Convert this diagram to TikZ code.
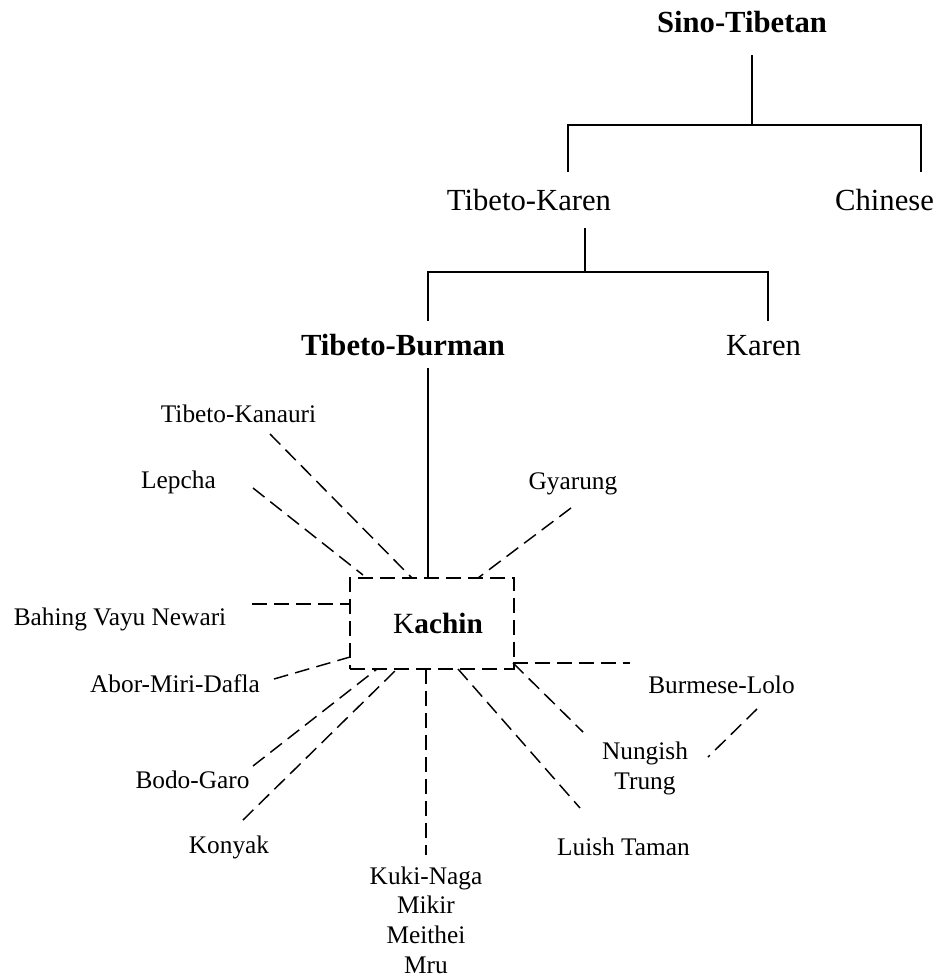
\documentclass[tikz,border=0pt]{standalone}
\usepackage{fontspec}
\setmainfont{Liberation Serif}
\begin{document}
\begin{tikzpicture}[x=0.75pt,y=-0.75pt,
  big/.style={font=\fontsize{23}{27}\selectfont, inner sep=0pt, anchor=base},
  small/.style={font=\fontsize{19}{22.2}\selectfont, inner sep=0pt, anchor=base, align=center},
  tree/.style={line width=1.1pt},
  dsh/.style={line width=1.1pt, dash pattern=on 11pt off 5.5pt}]
\useasboundingbox (0,0) rectangle (941,979);

% upper tree
\node[big] (sino) at (742,32) {\bfseries Sino-Tibetan};
\node[big] (tk) at (529,210) {Tibeto-Karen};
\node[big] (chinese) at (884.5,210) {Chinese};
\node[big] (tb) at (403,355) {\bfseries Tibeto-Burman};
\node[big] (karen) at (763.5,355) {Karen};

\coordinate (st1) at (752,55);
\coordinate (st2) at (752,125);
\coordinate (tkTop) at (568,172);
\coordinate (chTop) at (921,172);
\draw[tree] (st1) -- (st2);
\draw[tree] (tkTop) -- (tkTop |- st2) -- (chTop |- st2) -- (chTop);

\coordinate (tk1) at (585,228);
\coordinate (tk2) at (585,272);
\coordinate (tbTop) at (428,321);
\coordinate (kaTop) at (768,321);
\draw[tree] (tk1) -- (tk2);
\draw[tree] (tbTop) -- (tbTop |- tk2) -- (kaTop |- tk2) -- (kaTop);

% Kachin box
\node[draw, dsh, minimum width=123pt, minimum height=68.25pt, inner sep=0pt,
      font=\fontsize{22}{26}\selectfont] (kachin) at (432,623.5) {\hspace{9pt}K\textbf{achin}};

\coordinate (tbBot) at (428,368);
\draw[tree] (tbBot) -- (tbBot |- kachin.north);

% labels
\node[small] (kanauri) at (238.5,422) {Tibeto-Kanauri};
\node[small] (lepcha) at (178.5,488) {Lepcha};
\node[small] (gyarung) at (573,489) {Gyarung};
\node[small] (bahing) at (120,625) {Bahing Vayu Newari};
\node[small] (abor) at (175,692) {Abor-Miri-Dafla};
\node[small] (bodo) at (192.5,788) {Bodo-Garo};
\node[small] (konyak) at (229,853) {Konyak};
\node[small] (kuki) at (426,973) {Kuki-Naga\\Mikir\\Meithei\\Mru};
\node[small] (luish) at (623.5,855) {Luish Taman};
\node[small] (nungish) at (645,789) {Nungish\\Trung};
\node[small] (burmese) at (721.5,693) {Burmese-Lolo};

% dashed connectors
\coordinate (kanE) at (270,434);  \coordinate (kanB) at (412,578);
\coordinate (lepE) at (253,488);  \coordinate (lepB) at (363,575);
\coordinate (gyaE) at (571,508);  \coordinate (gyaB) at (478,578);
\coordinate (bahE) at (252,604);  \coordinate (bahB) at (350,604);
\coordinate (aboE) at (274,679);  \coordinate (aboB) at (350,657);
\coordinate (bodE) at (253,766);  \coordinate (bodB) at (377,669);
\coordinate (konE) at (243,820);  \coordinate (konB) at (397,669);
\coordinate (kukE) at (426,855);  \coordinate (kukB) at (426,669);
\coordinate (luiE) at (580,808);  \coordinate (luiB) at (458,669);
\coordinate (nunE) at (583,732);  \coordinate (nunB) at (513,663);
\coordinate (burE) at (630,663);
\coordinate (bnA) at (757,709);   \coordinate (bnB) at (708,757);

\draw[dsh] (kanE) -- (kanB);
\draw[dsh] (lepE) -- (lepB);
\draw[dsh] (gyaE) -- (gyaB);
\draw[dsh] (bahE) -- (bahB);
\draw[dsh] (aboE) -- (aboB);
\draw[dsh] (bodE) -- (bodB);
\draw[dsh] (konE) -- (konB);
\draw[dsh] (kukB) -- (kukE);
\draw[dsh] (luiB) -- (luiE);
\draw[dsh] (nunB) -- (nunE);
\draw[dsh] (nunB) -- (burE);
\draw[dsh] (bnA) -- (bnB);
\end{tikzpicture}
\end{document}
